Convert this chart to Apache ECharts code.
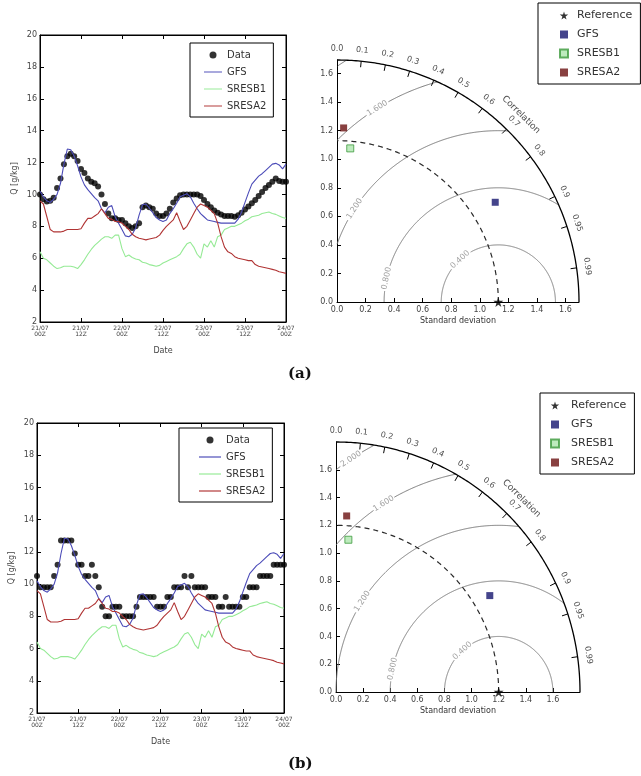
<!DOCTYPE html>
<html>
<head>
<meta charset="utf-8">
<script src="https://cdn.jsdelivr.net/npm/echarts@6/dist/echarts.min.js"></script>
<style>
  html, body { margin: 0; padding: 0; background: #fff; }
  #main { width: 641px; height: 776px; }
</style>
</head>
<body>
<div id="main"></div>
<script>
// ---- time series data (hourly, 21/07 00Z .. 24/07 00Z) ----
const tickLabels = ['21/07\n00Z', '21/07\n12Z', '22/07\n00Z', '22/07\n12Z', '23/07\n00Z', '23/07\n12Z', '24/07\n00Z']

const obsA = [10.0, 9.7, 9.55, 9.6, 9.8, 10.4, 11.0, 11.9, 12.4, 12.55,
  12.4, 12.1, 11.6, 11.35, 11.0, 10.8, 10.7, 10.5, 10.0, 9.4,
  8.8, 8.5, 8.5, 8.4, 8.4, 8.2, 8.0, 7.9, 8.0, 8.2,
  9.2, 9.3, 9.2, 9.1, 8.8, 8.65, 8.65, 8.8, 9.1, 9.5,
  9.75, 9.95, 10.0, 10.0, 10.0, 10.0, 10.0, 9.9, 9.65, 9.4,
  9.2, 9.0, 8.85, 8.75, 8.65, 8.65, 8.65, 8.6, 8.7, 8.85,
  9.05, 9.25, 9.45, 9.65, 9.9, 10.15, 10.4, 10.6, 10.8, 11.0,
  10.85, 10.8, 10.8]

const obsB = [10.5, 9.8, 9.8, 9.8, 9.8, 10.5, 11.2, 12.7, 12.7, 12.7,
  12.7, 11.9, 11.2, 11.2, 10.5, 10.5, 11.2, 10.5, 9.8, 8.6,
  8.0, 8.0, 8.6, 8.6, 8.6, 8.0, 8.0, 8.0, 8.0, 8.6,
  9.2, 9.2, 9.2, 9.2, 9.2, 8.6, 8.6, 8.6, 9.2, 9.2,
  9.8, 9.8, 9.8, 10.5, 9.8, 10.5, 9.8, 9.8, 9.8, 9.8,
  9.2, 9.2, 9.2, 8.6, 8.6, 9.2, 8.6, 8.6, 8.6, 8.6,
  9.2, 9.2, 9.8, 9.8, 9.8, 10.5, 10.5, 10.5, 10.5, 11.2,
  11.2, 11.2, 11.2]

const gfs = [10.2, 9.85, 9.6, 9.5, 9.7, 10.0, 10.7, 11.9, 12.85, 12.8,
  12.4, 11.8, 11.1, 10.6, 10.3, 10.05, 9.8, 9.6, 9.1, 8.85,
  9.2, 9.3, 8.6, 8.2, 7.8, 7.4, 7.35, 7.5, 7.9, 8.7,
  9.35, 9.4, 9.15, 8.85, 8.55, 8.4, 8.3, 8.4, 8.8, 9.1,
  9.45, 9.85, 9.95, 10.05, 9.85, 9.45, 9.1, 8.8, 8.6, 8.4,
  8.35, 8.3, 8.25, 8.2, 8.2, 8.2, 8.2, 8.2, 8.45, 8.9,
  9.5, 10.1, 10.65, 10.9, 11.15, 11.3, 11.5, 11.7, 11.9, 11.95,
  11.85, 11.6, 11.9]

const sresb1 = [6.4, 6.0, 5.9, 5.7, 5.5, 5.35, 5.4, 5.5, 5.5, 5.5,
  5.45, 5.35, 5.6, 5.9, 6.25, 6.55, 6.8, 7.0, 7.2, 7.35,
  7.35, 7.25, 7.45, 7.45, 6.6, 6.1, 6.2, 6.05, 5.95, 5.9,
  5.75, 5.7, 5.6, 5.55, 5.5, 5.55, 5.7, 5.8, 5.9, 6.0,
  6.1, 6.25, 6.6, 6.9, 7.0, 6.7, 6.25, 6.0, 6.9, 6.7,
  7.1, 6.7, 7.35, 7.45, 7.8, 7.9, 8.0, 8.0, 8.1, 8.2,
  8.35, 8.45, 8.6, 8.65, 8.7, 8.8, 8.85, 8.9, 8.8, 8.75,
  8.65, 8.55, 8.5]

const sresa2 = [9.6, 9.4, 8.6, 7.8, 7.65, 7.65, 7.65, 7.7, 7.8, 7.8,
  7.8, 7.8, 7.85, 8.2, 8.5, 8.5, 8.65, 8.8, 9.1, 8.8,
  8.5, 8.45, 8.3, 8.3, 8.2, 8.0, 7.8, 7.5, 7.35, 7.25,
  7.2, 7.15, 7.2, 7.25, 7.3, 7.45, 7.75, 8.0, 8.2, 8.4,
  8.85, 8.3, 7.8, 8.0, 8.4, 8.8, 9.2, 9.4, 9.3, 9.2,
  9.0, 8.8, 8.2, 7.35, 6.7, 6.4, 6.3, 6.1, 6.0, 5.95,
  5.9, 5.85, 5.85, 5.6, 5.5, 5.45, 5.4, 5.35, 5.3, 5.25,
  5.15, 5.1, 5.05]

// ---- Taylor diagram statistics ----
const modelNames = ['GFS', 'SRESB1', 'SRESA2']
const refStdA = 1.13
const stdA = [1.31, 1.08, 1.22]
const corrA = [0.846, 0.086, 0.038]
const refStdB = 1.2
const stdB = [1.33, 1.10, 1.27]
const corrB = [0.853, 0.083, 0.062]
const rmsLevels = [0.4, 0.8, 1.2, 1.6, 2.0]
const corrTicks = [0, 0.1, 0.2, 0.3, 0.4, 0.5, 0.6, 0.7, 0.8, 0.9, 0.95, 0.99]

// ---- styles ----
const FONT = 'DejaVu Sans'
const lineColors = { GFS: '#4b4bb8', SRESB1: '#95ea95', SRESA2: '#b03434' }
const markerStyles = {
  GFS: { color: '#15156e' },
  SRESB1: { color: '#aee6ae', borderColor: '#3c9a3c', borderWidth: 1 },
  SRESA2: { color: '#6a1010' },
}
const contourLabelAngle = [132, 168, 147, 122, 123] // deg, around the reference point
const linePath = 'path://M0,0L30,0L30,1.6L0,1.6Z'
const squarePath = 'path://M0,0L10,0L10,10L0,10Z'
const starPath = 'path://M50,0L61,35L98,35L68,57L79,91L50,70L21,91L32,57L2,35L39,35Z'
const D = Math.PI / 180

const chart = echarts.init(document.getElementById('main'), null, { renderer: 'canvas' })

const grids = [
  { left: 40, top: 35, width: 246, height: 287 },   // (a) time series
  { left: 337, top: 60, width: 242, height: 242 },  // (a) taylor
  { left: 37, top: 423, width: 247, height: 290 },  // (b) time series
  { left: 336, top: 442, width: 244, height: 250 }, // (b) taylor
].map((g, i) => Object.assign(g, { show: i % 2 === 0, borderColor: '#000', borderWidth: 1, backgroundColor: 'transparent' }))

const xAxis = []
const yAxis = []
const series = []

function tsPanel(gi, obs) {
  const xb = xAxis.length
  const yl = yAxis.length
  const common = {
    gridIndex: gi, type: 'value',
    axisLine: { show: true, onZero: false, lineStyle: { color: '#000', width: 1 } },
    axisTick: { inside: true, length: 4, lineStyle: { color: '#000' } },
    splitLine: { show: false },
  }
  xAxis.push(Object.assign({}, common, {
    min: 0, max: 72, interval: 12, position: 'bottom',
    axisLabel: { fontSize: 6, lineHeight: 6, color: '#444', fontFamily: FONT, margin: 3, formatter: v => tickLabels[v / 12] },
    name: 'Date', nameLocation: 'middle', nameGap: 25,
    nameTextStyle: { fontSize: 8, color: '#444', fontFamily: FONT },
  }))
  xAxis.push(Object.assign({}, common, { min: 0, max: 72, interval: 12, position: 'top', axisLabel: { show: false } }))
  yAxis.push(Object.assign({}, common, {
    min: 2, max: 20, interval: 2, position: 'left',
    axisLabel: { fontSize: 8, color: '#444', fontFamily: FONT, margin: 3 },
    name: 'Q [g/kg]', nameLocation: 'middle', nameGap: 21,
    nameTextStyle: { fontSize: 8, color: '#444', fontFamily: FONT },
  }))
  yAxis.push(Object.assign({}, common, { min: 2, max: 20, interval: 2, position: 'right', axisLabel: { show: false } }))

  series.push({
    name: 'Data', type: 'scatter', xAxisIndex: xb, yAxisIndex: yl,
    data: obs.map((v, i) => [i, v]), symbol: 'circle', symbolSize: 6,
    itemStyle: { color: '#000' }, silent: true, z: 2,
  })
  const models = { GFS: gfs, SRESB1: sresb1, SRESA2: sresa2 }
  modelNames.forEach(name => {
    series.push({
      name, type: 'line', xAxisIndex: xb, yAxisIndex: yl,
      data: models[name].map((v, i) => [i, v]), symbol: 'none', showSymbol: false,
      lineStyle: { color: lineColors[name], width: 1.1 }, itemStyle: { color: lineColors[name] },
      silent: true, z: 3,
    })
  })
}

function taylorPanel(gi, refStd, std, corr) {
  const smax = 1.5 * refStd
  const xi = xAxis.length
  const yi = yAxis.length
  const common = {
    gridIndex: gi, type: 'value', min: 0, max: smax, interval: 0.2,
    axisLine: { show: true, onZero: false, lineStyle: { color: '#000', width: 1 } },
    axisTick: { inside: true, length: 4, lineStyle: { color: '#000' } },
    axisLabel: { fontSize: 8, color: '#444', fontFamily: FONT, margin: 4, showMaxLabel: false, formatter: v => v.toFixed(1) },
    splitLine: { show: false },
  }
  xAxis.push(Object.assign({}, common, {
    name: 'Standard deviation', nameLocation: 'middle', nameGap: 15,
    nameTextStyle: { fontSize: 8, color: '#333', fontFamily: FONT },
  }))
  yAxis.push(Object.assign({}, common))
  const base = { xAxisIndex: xi, yAxisIndex: yi, silent: true }

  const arc = r => {
    const pts = []
    for (let a = 0; a <= 90.001; a += 0.5) pts.push([r * Math.cos(a * D), r * Math.sin(a * D)])
    return pts
  }
  // outer correlation arc
  series.push(Object.assign({}, base, {
    type: 'lines', coordinateSystem: 'cartesian2d', polyline: true, clip: false,
    data: [{ coords: arc(smax) }], lineStyle: { color: '#000', width: 1.3, opacity: 1 }, z: 4,
  }))
  // reference std arc
  series.push(Object.assign({}, base, {
    type: 'lines', coordinateSystem: 'cartesian2d', polyline: true, clip: false,
    data: [{ coords: arc(refStd) }], lineStyle: { color: '#2a2a2a', width: 1.2, type: [5, 4], opacity: 1 }, z: 3,
  }))
  // correlation ticks
  series.push(Object.assign({}, base, {
    type: 'lines', coordinateSystem: 'cartesian2d', clip: false,
    data: corrTicks.map(c => {
      const p = Math.acos(c)
      return { coords: [[smax * Math.cos(p), smax * Math.sin(p)], [smax * 0.975 * Math.cos(p), smax * 0.975 * Math.sin(p)]] }
    }),
    lineStyle: { color: '#000', width: 1, opacity: 1 }, z: 4,
  }))
  // correlation labels
  series.push(Object.assign({}, base, {
    type: 'scatter', clip: false, symbolSize: 0,
    data: corrTicks.map(c => {
      const p = Math.acos(c)
      const r = smax * 1.045
      return {
        name: (c === 0.95 || c === 0.99) ? c.toFixed(2) : c.toFixed(1),
        value: [r * Math.cos(p), r * Math.sin(p)],
        label: { rotate: p / D - 90 },
      }
    }).concat([{
      name: 'Correlation',
      value: [smax * 1.085 * Math.cos(45.5 * D), smax * 1.085 * Math.sin(45.5 * D)],
      label: { rotate: 45.5 - 90, fontSize: 9 },
    }]),
    label: { show: true, position: 'inside', formatter: '{b}', fontSize: 8, color: '#222', fontFamily: FONT },
    z: 5,
  }))

  // centred RMS difference contours
  const segs = []
  const labels = []
  const inside = (x, y) => x >= -1e-9 && x * x + y * y <= smax * smax
  rmsLevels.forEach((r, k) => {
    const la = contourLabelAngle[k]
    let visLen = 0
    for (let a = 0; a < 180; a += 0.25) {
      const x = refStd + r * Math.cos(a * D), y = r * Math.sin(a * D)
      if (inside(x, y)) visLen += r * 0.25 * D
    }
    const lx = refStd + r * Math.cos(la * D), ly = r * Math.sin(la * D)
    const showLabel = visLen > 0.3 && inside(lx, ly)
    const gap = (0.09 / r) / D
    let cur = []
    for (let a = 0; a <= 180.001; a += 0.25) {
      const x = refStd + r * Math.cos(a * D), y = r * Math.sin(a * D)
      const ok = inside(x, y) && !(showLabel && Math.abs(a - la) < gap)
      if (ok) cur.push([x, y])
      else if (cur.length) { if (cur.length > 1) segs.push({ coords: cur }); cur = [] }
    }
    if (cur.length > 1) segs.push({ coords: cur })
    if (showLabel) labels.push({ name: r.toFixed(3), value: [lx, ly], label: { rotate: la - 90 } })
  })
  series.push(Object.assign({}, base, {
    type: 'lines', coordinateSystem: 'cartesian2d', polyline: true, clip: false,
    data: segs, lineStyle: { color: '#7a7a7a', width: 1, opacity: 1 }, z: 2,
  }))
  series.push(Object.assign({}, base, {
    type: 'scatter', clip: false, symbolSize: 0, data: labels,
    label: { show: true, position: 'inside', formatter: '{b}', fontSize: 8, color: '#8a8a8a', fontFamily: FONT },
    z: 2,
  }))

  // markers
  series.push(Object.assign({}, base, {
    name: 'T:Reference', type: 'scatter', clip: false, symbol: starPath, symbolSize: 10,
    data: [[refStd, 0]], itemStyle: { color: '#000' }, z: 6,
  }))
  modelNames.forEach((name, i) => {
    const p = Math.acos(corr[i])
    series.push(Object.assign({}, base, {
      name: 'T:' + name, type: 'scatter', clip: false, symbol: 'rect', symbolSize: 7,
      data: [[std[i] * Math.cos(p), std[i] * Math.sin(p)]], itemStyle: markerStyles[name], z: 6,
    }))
  })
}

tsPanel(0, obsA)
taylorPanel(1, refStdA, stdA, corrA)
tsPanel(2, obsB)
taylorPanel(3, refStdB, stdB, corrB)

const legendBase = {
  orient: 'vertical', selectedMode: false, itemGap: 7, backgroundColor: '#fff',
  borderColor: '#000', borderWidth: 1, borderRadius: 0, symbolKeepAspect: true,
  textStyle: { fontSize: 10, color: '#333', fontFamily: FONT },
}
const tsLegendData = [{ name: 'Data', icon: 'circle' }].concat(modelNames.map(n => ({ name: n, icon: linePath })))
const tLegendData = [{ name: 'T:Reference', icon: starPath }].concat(modelNames.map(n => ({ name: 'T:' + n, icon: squarePath })))
const tFormatter = n => n.replace('T:', '')
const legend = [
  Object.assign({}, legendBase, { left: 190, top: 43, padding: [7, 7, 6, 14], itemWidth: 18, itemHeight: 7, data: tsLegendData }),
  Object.assign({}, legendBase, { left: 179, top: 428, padding: [7, 7, 6, 20], itemWidth: 22, itemHeight: 7, data: tsLegendData }),
  Object.assign({}, legendBase, {
    left: 538, top: 3, padding: [7, 8, 6, 21], itemWidth: 16, itemHeight: 8, itemGap: 8,
    data: tLegendData, formatter: tFormatter, textStyle: { fontSize: 11, color: '#333', fontFamily: FONT },
  }),
  Object.assign({}, legendBase, {
    left: 540, top: 393, padding: [7, 8, 6, 10], itemWidth: 22, itemHeight: 8, itemGap: 8,
    data: tLegendData, formatter: tFormatter, textStyle: { fontSize: 11, color: '#333', fontFamily: FONT },
  }),
]

chart.setOption({
  animation: false,
  backgroundColor: '#fff',
  title: [
    { text: '(a)', left: 288, top: 367, padding: 0, textStyle: { fontFamily: 'DejaVu Serif', fontWeight: 'bold', fontSize: 15, color: '#111' } },
    { text: '(b)', left: 288, top: 757, padding: 0, textStyle: { fontFamily: 'DejaVu Serif', fontWeight: 'bold', fontSize: 15, color: '#111' } },
  ],
  legend,
  grid: grids,
  xAxis,
  yAxis,
  series,
})
</script>
</body>
</html>
